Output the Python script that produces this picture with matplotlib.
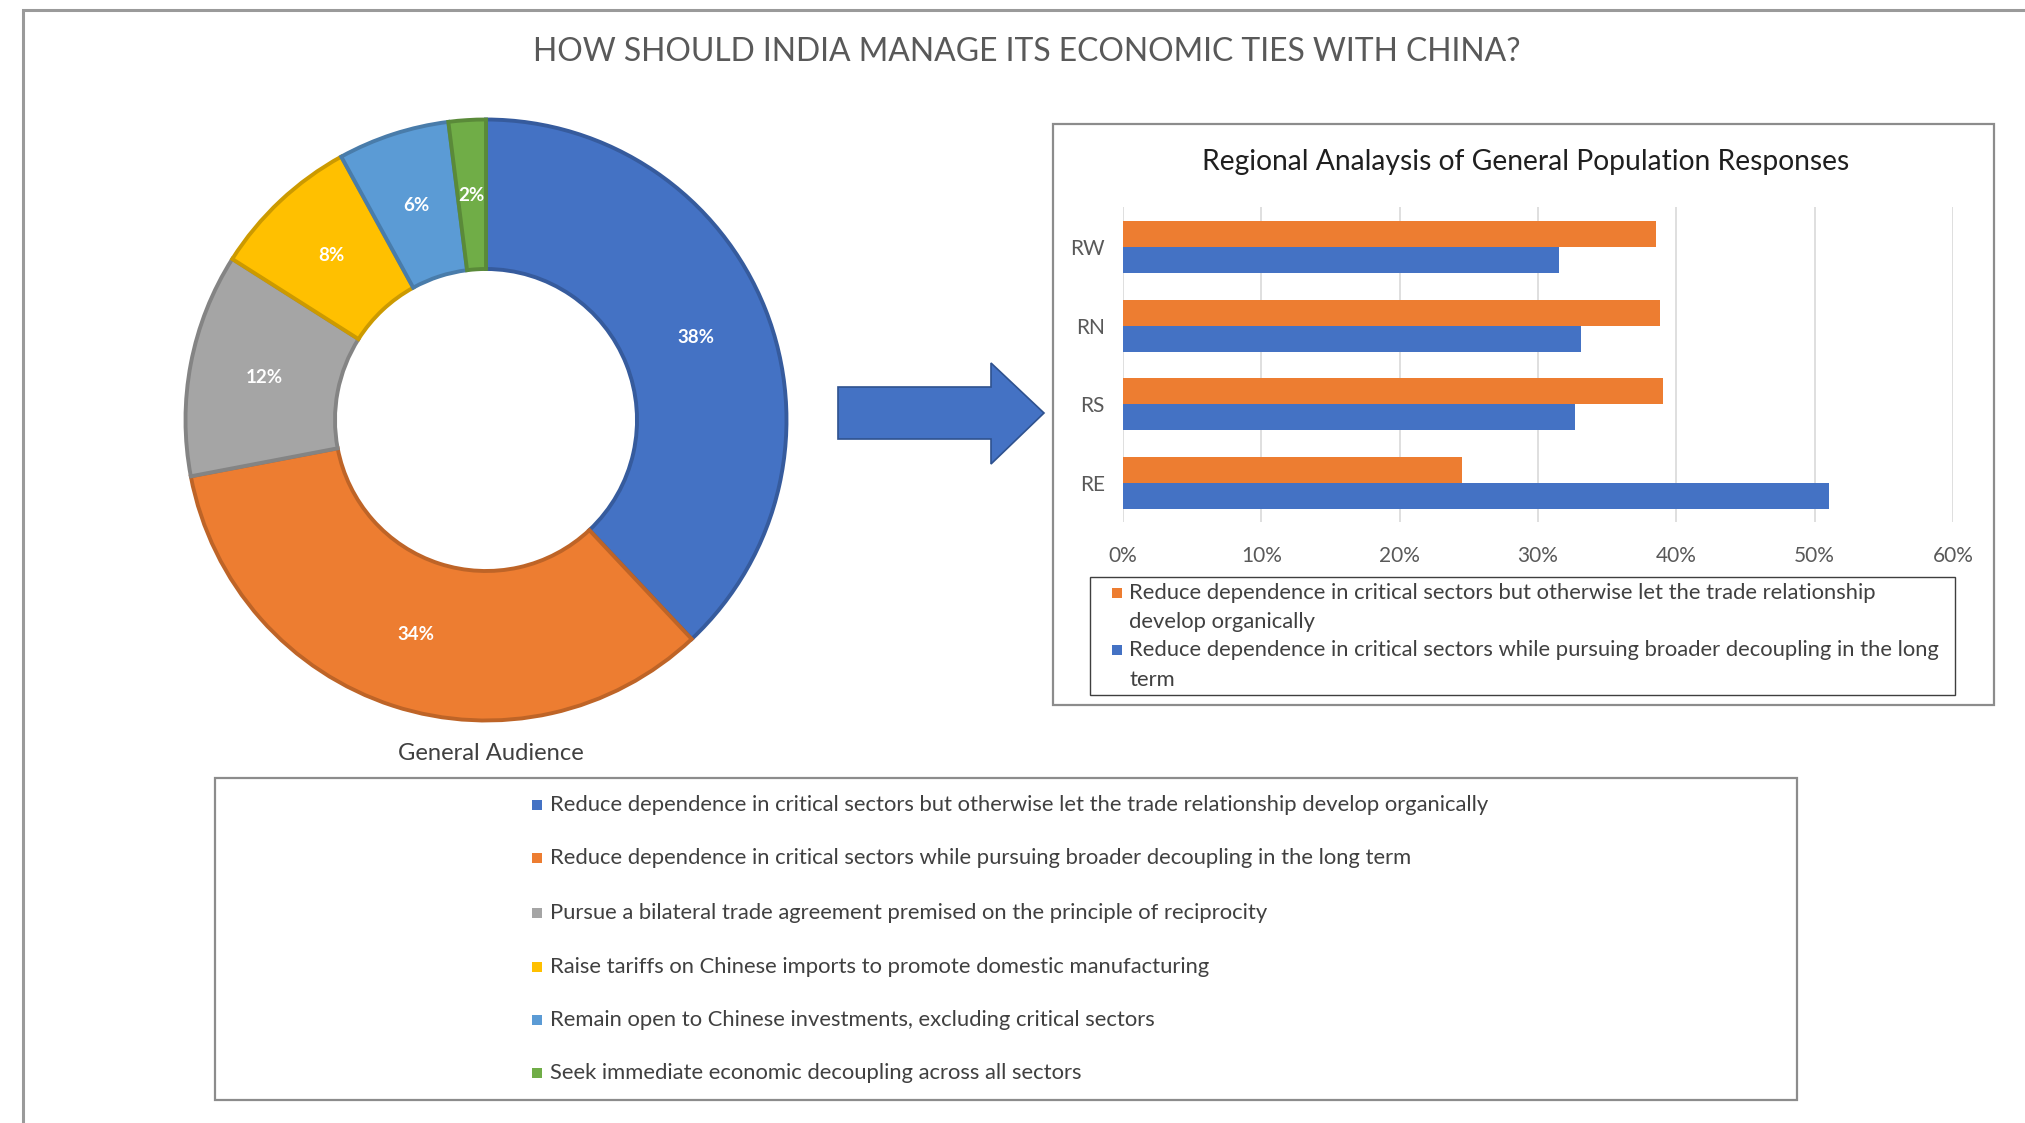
import matplotlib
matplotlib.use("Agg")
import matplotlib.pyplot as plt
import matplotlib.colors as mcolors
from matplotlib.patches import Rectangle, Polygon
import numpy as np

plt.rcParams['font.family'] = ['Lato', 'DejaVu Sans']

# ---------------- data ----------------
title = "HOW SHOULD INDIA MANAGE ITS ECONOMIC TIES WITH CHINA?"

options = [
    "Reduce dependence in critical sectors but otherwise let the trade relationship develop organically",
    "Reduce dependence in critical sectors while pursuing broader decoupling in the long term",
    "Pursue a bilateral trade agreement premised on the principle of reciprocity",
    "Raise tariffs on Chinese imports to promote domestic manufacturing",
    "Remain open to Chinese investments, excluding critical sectors",
    "Seek immediate economic decoupling across all sectors",
]
shares = [38, 34, 12, 8, 6, 2]
option_colors = ["#4472C4", "#ED7D31", "#A5A5A5", "#FFC000", "#5B9BD5", "#70AD47"]
donut_caption = "General Audience"

bar_title = "Regional Analaysis of General Population Responses"
regions = ["RE", "RS", "RN", "RW"]
organic_share = [24.5, 39.0, 38.8, 38.5]     # orange series
decoupling_share = [51.0, 32.7, 33.1, 31.5]  # blue series
x_ticks = [0, 10, 20, 30, 40, 50, 60]
bar_legend_lines = [
    ["Reduce dependence in critical sectors but otherwise let the trade relationship",
     "develop organically"],
    ["Reduce dependence in critical sectors while pursuing broader decoupling in the long",
     "term"],
]
bar_colors = ["#ED7D31", "#4472C4"]

# ---------------- figure helpers ----------------
W, H = 2025, 1123
fig = plt.figure(figsize=(W / 100, H / 100), dpi=100)
fig.patch.set_facecolor("white")
renderer = fig.canvas.get_renderer()


def fx(x):
    return x / W


def fy(y):
    return 1 - y / H


def fit(txt, target_px):
    bb = txt.get_window_extent(renderer)
    txt.set_fontsize(txt.get_fontsize() * target_px / bb.width)
    return txt.get_fontsize()


def darker(c, f=0.8):
    r, g, b = mcolors.to_rgb(c)
    return (r * f, g * f, b * f)


# outer frame (open to the right and bottom)
fig.add_artist(Rectangle((fx(23), -0.2), 1.3, fy(10) + 0.2, transform=fig.transFigure,
                         fill=False, edgecolor="#9A9A9A", linewidth=2.2))

# main title
t = fig.text(fx(1027), fy(52), title, ha="center", va="center", color="#595959", fontsize=20)
fit(t, 989)

# ---------------- donut ----------------
cx, cy, R = 486, 420, 302
ax_d = fig.add_axes([fx(cx - R), fy(cy + R), 2 * R / W, 2 * R / H])
wedges, _, autotexts = ax_d.pie(
    shares, colors=option_colors, startangle=90, counterclock=False, radius=0.995,
    wedgeprops=dict(width=0.495, linewidth=2.8),
    autopct=lambda p: f"{p:.0f}%", pctdistance=0.75,
    textprops=dict(color="white", fontsize=13.5, fontweight="bold"))
for w, c in zip(wedges, option_colors):
    w.set_edgecolor(darker(c))
ax_d.set_xlim(-1, 1)
ax_d.set_ylim(-1, 1)
ax_d.set_aspect("equal")
ax_d.axis("off")

cap = fig.text(fx(491), fy(753), donut_caption, ha="center", va="center", color="#404040", fontsize=14)
fit(cap, 187)

# ---------------- arrow ----------------
arrow_pts = [(838, 387), (991, 387), (991, 363), (1044, 413), (991, 464), (991, 439), (838, 439)]
fig.add_artist(Polygon([(fx(x), fy(y)) for x, y in arrow_pts], closed=True,
                       transform=fig.transFigure, facecolor="#4472C4",
                       edgecolor="#2F528F", linewidth=1.2))

# ---------------- regional bar chart ----------------
fig.add_artist(Rectangle((fx(1053), fy(705)), (1994 - 1053) / W, (705 - 124) / H,
                         transform=fig.transFigure, fill=False, edgecolor="#8C8C8C", linewidth=1.6))

bt = fig.text(fx(1526), fy(162), bar_title, ha="center", va="center", color="#1F1F1F", fontsize=16)
fit(bt, 650)

ax_b = fig.add_axes([fx(1123), fy(522.5), 830 / W, 315 / H])
ypos = np.arange(len(regions))
bh = 0.33
ax_b.barh(ypos + bh / 2, organic_share, height=bh, color=bar_colors[0], zorder=3)
ax_b.barh(ypos - bh / 2, decoupling_share, height=bh, color=bar_colors[1], zorder=3)
ax_b.set_xlim(0, 60)
ax_b.set_ylim(-0.5, 3.5)
ax_b.set_xticks(x_ticks)
ax_b.set_xticklabels([f"{v}%" for v in x_ticks])
ax_b.set_yticks(ypos)
ax_b.set_yticklabels(regions)
ax_b.grid(axis="x", color="#D9D9D9", linewidth=1.2, zorder=0)
ax_b.set_axisbelow(True)
for s in ax_b.spines.values():
    s.set_visible(False)
ax_b.tick_params(axis="x", length=0, pad=17, labelsize=15, labelcolor="#595959")
ax_b.tick_params(axis="y", length=0, pad=13, labelsize=15, labelcolor="#595959")

# legend of the bar chart
fig.add_artist(Rectangle((fx(1090), fy(695)), (1955 - 1090) / W, (695 - 577) / H,
                         transform=fig.transFigure, fill=False, edgecolor="#3F3F3F", linewidth=1.0))
probe = fig.text(0, 0, options[0], fontsize=14)
legend_size = fit(probe, 941)
probe.remove()

line_y = [[593, 622], [650, 680]]
for lines, ys, col in zip(bar_legend_lines, line_y, bar_colors):
    fig.add_artist(Rectangle((fx(1112), fy(ys[0] + 5)), 10 / W, 10 / H,
                             transform=fig.transFigure, facecolor=col, edgecolor="none"))
    for ln, yy in zip(lines, ys):
        fig.text(fx(1129), fy(yy), ln, ha="left", va="center", color="#404040", fontsize=legend_size)

# ---------------- donut legend ----------------
fig.add_artist(Rectangle((fx(215), fy(1100)), (1797 - 215) / W, (1100 - 778) / H,
                         transform=fig.transFigure, fill=False, edgecolor="#8C8C8C", linewidth=1.6))
entry_y = [805, 858, 913, 967, 1020, 1073]
for label, col, yy in zip(options, option_colors, entry_y):
    fig.add_artist(Rectangle((fx(532), fy(yy + 5)), 10 / W, 10 / H,
                             transform=fig.transFigure, facecolor=col, edgecolor="none"))
    fig.text(fx(550), fy(yy), label, ha="left", va="center", color="#404040", fontsize=legend_size)

fig.savefig("out.png", dpi=100, facecolor="white")
